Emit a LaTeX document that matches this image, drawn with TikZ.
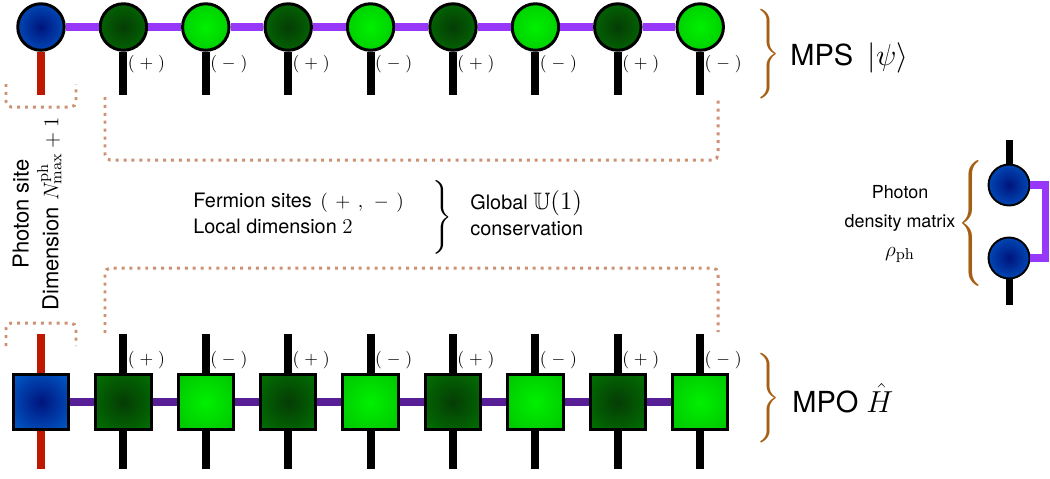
\documentclass[tikz,border=0pt]{standalone}
\usepackage{amssymb}
\usepackage[no-math]{fontspec}
\newfontfamily\heros{TeX Gyre Heros}
\definecolor{blueIn}{RGB}{0,20,125}
\definecolor{blueOut}{RGB}{0,122,235}
\definecolor{dkIn}{RGB}{5,60,5}
\definecolor{dkOut}{RGB}{0,135,0}
\definecolor{ltIn}{RGB}{0,240,0}
\definecolor{ltOut}{RGB}{0,178,0}
\definecolor{phred}{RGB}{190,25,0}
\definecolor{mpsbond}{RGB}{150,55,250}
\definecolor{mpobond}{RGB}{88,30,150}
\definecolor{dotc}{RGB}{205,145,115}
\definecolor{brn}{RGB}{165,95,20}
\pgfdeclareradialshading{bluegrad}{\pgfpoint{0bp}{0bp}}{color(0bp)=(blueIn); color(50bp)=(blueOut)}
\pgfdeclareradialshading{dkgrad}{\pgfpoint{0bp}{0bp}}{color(0bp)=(dkIn); color(50bp)=(dkOut)}
\pgfdeclareradialshading{ltgrad}{\pgfpoint{0bp}{0bp}}{color(0bp)=(ltIn); color(50bp)=(ltOut)}
\begin{document}
\begin{tikzpicture}[x=0.02cm,y=-0.02cm,
    circ/.style={circle,draw=black,line width=1.7pt,minimum size=0.93cm,inner sep=0pt,shade},
    sq/.style={rectangle,draw=black,line width=1.7pt,minimum size=1.11cm,inner sep=0pt,shade},
    leg/.style={line width=4.5pt,black},
    phleg/.style={line width=4.5pt,phred},
    bond/.style={line width=4.5pt,mpsbond},
    obond/.style={line width=4.5pt,mpobond},
    sign/.style={font=\fontsize{10}{12}\selectfont,inner sep=0pt},
    dotbox/.style={draw=dotc,line width=1.7pt,dash pattern=on 1.7pt off 2.8pt,rounded corners=3pt},
    bracenode/.style={inner sep=0pt,font=\fontsize{17}{20}\selectfont},
    txt/.style={font=\heros\fontsize{11.3}{14.8}\selectfont,inner sep=0pt,align=left}]
  \useasboundingbox (0,0) rectangle (1050,478);
  % photon site
  \node[circ,shading=bluegrad] (s0) at (41,27) {};
  \node[sq,shading=bluegrad] (o0) at (41,402) {};
  % fermion sites
  \foreach \i/\sh/\sg in {1/dkgrad/+,2/ltgrad/-,3/dkgrad/+,4/ltgrad/-,5/dkgrad/+,6/ltgrad/-,7/dkgrad/+,8/ltgrad/-} {
    \node[circ,shading=\sh] (s\i) at ({41+82.4*\i},27) {};
    \node[sq,shading=\sh] (o\i) at ({41+82.4*\i},402) {};
    \node[sign] (p\i) at ({64+82.4*\i},64) {$(\;\sg\;)$};
    \node[sign] (q\i) at ({64+82.4*\i},360) {$(\;\sg\;)$};
  }
  % legs
  \coordinate (l0) at (41,95);
  \coordinate (ot0) at (41,334);
  \coordinate (ob0) at (41,469);
  \draw[phleg] (s0) -- (l0);
  \draw[phleg] (ot0) -- (o0);
  \draw[phleg] (o0) -- (ob0);
  \foreach \i in {1,...,8} {
    \coordinate (l\i) at ({41+82.4*\i},95);
    \coordinate (ot\i) at ({41+82.4*\i},334);
    \coordinate (ob\i) at ({41+82.4*\i},469);
    \draw[leg] (s\i) -- (l\i);
    \draw[leg] (ot\i) -- (o\i);
    \draw[leg] (o\i) -- (ob\i);
  }
  % bonds
  \foreach \i [count=\j] in {0,...,7} {
    \draw[bond] (s\i) -- (s\j);
    \draw[obond] (o\i) -- (o\j);
  }
  % dotted brackets
  \draw[dotbox] (6,84) -- (6,107) -- (76,107) -- (76,84);
  \draw[dotbox] (105,97) -- (105,160) -- (718,160) -- (718,97);
  \draw[dotbox] (105,333) -- (105,268) -- (718,268) -- (718,332);
  \draw[dotbox] (6,346) -- (6,323) -- (76,323) -- (76,346);
  % braces and labels
  \node[bracenode,text=brn] (mpsbr) at (767,54) {$\left.\vrule height 21pt depth 21pt width 0pt\right\}$};
  \node[bracenode,text=brn] (mpobr) at (767,398) {$\left.\vrule height 21pt depth 21pt width 0pt\right\}$};
  \node[bracenode,text=brn] (rhobr) at (972,225) {$\left\{\vrule height 33pt depth 33pt width 0pt\right.$};
  \node[bracenode,font=\fontsize{14}{16}\selectfont] (u1br) at (441,219) {$\left.\vrule height 19pt depth 19pt width 0pt\right\}$};
  \node[anchor=base west,inner sep=0pt,font=\heros\fontsize{16.5}{20}\selectfont] (mps) at (790,65) {MPS\enspace$|\psi\rangle$};
  \node[anchor=base west,inner sep=0pt,font=\heros\fontsize{16.5}{20}\selectfont] (mpo) at (792,412) {MPO $\hat{H}$};
  \node[txt,anchor=west] (ferm) at (193,213) {Fermion sites $\,(\mkern7mu+\mkern7mu,\mkern7mu-\mkern7mu)$\\Local dimension {\fontsize{13}{14.8}\selectfont$2$}};
  \node[txt,anchor=west] (glob) at (470,213) {Global {\fontsize{13.5}{14.8}\selectfont$\mathbb{U}(1)$}\\conservation};
  \node[txt,align=center,font=\heros\fontsize{10.2}{16.5}\selectfont] (rholab) at (900,224) {Photon\\density matrix\\{\fontsize{13}{16.5}\selectfont$\rho_{\mathrm{ph}}$}};
  \node[txt,rotate=90,align=center,font=\heros\fontsize{12.5}{17}\selectfont] (phlab) at (37,214) {Photon site\\Dimension $N^{\mathrm{ph}}_{\max}+1$};
  % photon density matrix
  \node[circ,shading=bluegrad,minimum size=0.82cm,line width=1.1pt] (d1) at (1009,185) {};
  \node[circ,shading=bluegrad,minimum size=0.82cm,line width=1.1pt] (d2) at (1009,258) {};
  \coordinate (dt) at (1009,140);
  \coordinate (db) at (1009,305);
  \coordinate (dr) at (1045,185);
  \draw[leg,line width=4pt] (dt) -- (d1);
  \draw[leg,line width=4pt] (d2) -- (db);
  \draw[bond,line width=4pt] (d1) -- (dr) |- (d2);
\end{tikzpicture}
\end{document}
